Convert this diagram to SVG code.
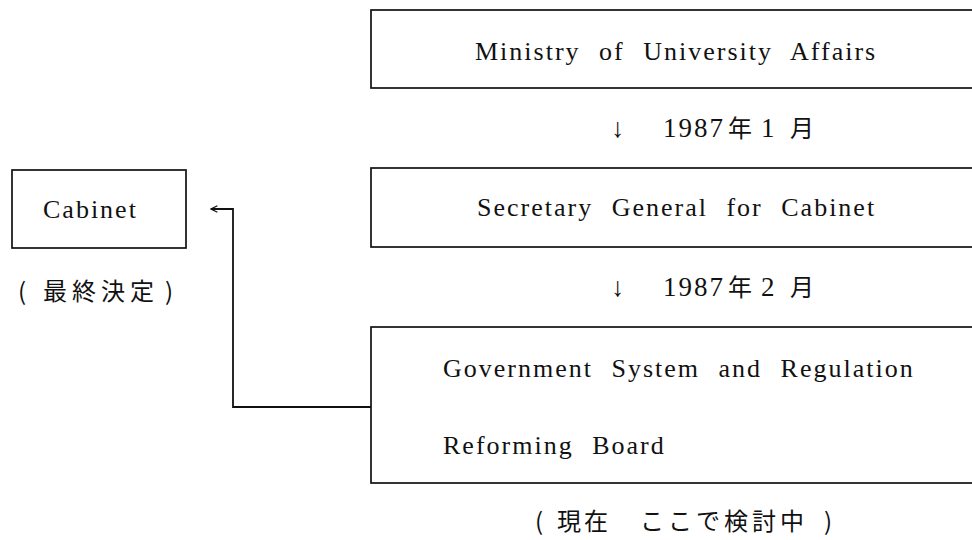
<svg xmlns="http://www.w3.org/2000/svg" width="972" height="540" viewBox="0 0 972 540">
<defs>
<style>
.box{fill:#fff;stroke:#111;stroke-width:1.7}
.t{font-family:"Liberation Serif","Times New Roman",serif;font-size:26px;fill:#111;letter-spacing:2px;word-spacing:10px}
.j{font-size:24px;fill:#111;font-family:"Noto Sans CJK JP",sans-serif}
.lbl{font-family:"Liberation Serif","Times New Roman",serif;font-size:27px;fill:#111}
.conn{fill:none;stroke:#111;stroke-width:1.8}
</style>
<marker id="ah" viewBox="0 0 10 10" refX="9" refY="5" markerWidth="8" markerHeight="8" markerUnits="userSpaceOnUse" orient="auto">
<path d="M1,1 L9,5 L1,9" fill="none" stroke="#111" stroke-width="1.6"/>
</marker>
</defs>
<rect width="972" height="540" fill="#fff"/>
<g id="connectors">
<path class="conn" d="M371,407 H233 V209 H211" marker-end="url(#ah)"/>
</g>
<g id="node-ministry">
<rect class="box" x="371" y="10" width="640" height="78"/>
<text class="t" x="475" y="60">Ministry of University Affairs</text>
</g>
<g id="label-1987-1">
<text class="lbl" x="611" y="137">↓</text>
<text class="lbl"><tspan x="663" y="137" letter-spacing="2">1987</tspan><tspan x="761" y="137">1</tspan></text>
<text class="j"><tspan x="728" y="137">年</tspan><tspan x="790" y="137">月</tspan></text>
</g>
<g id="node-secretary">
<rect class="box" x="371" y="168" width="640" height="79"/>
<text class="t" x="477" y="216">Secretary General for Cabinet</text>
</g>
<g id="label-1987-2">
<text class="lbl" x="611" y="296">↓</text>
<text class="lbl"><tspan x="663" y="296" letter-spacing="2">1987</tspan><tspan x="761" y="296">2</tspan></text>
<text class="j"><tspan x="728" y="296">年</tspan><tspan x="790" y="296">月</tspan></text>
</g>
<g id="node-board">
<rect class="box" x="371" y="327" width="640" height="156"/>
<text class="t" x="443" y="377">Government System and Regulation</text>
<text class="t" x="443" y="454">Reforming Board</text>
</g>
<text class="j" x="535" y="530">(<tspan x="557" letter-spacing="3">現在</tspan><tspan x="640" letter-spacing="4">ここで検討中</tspan><tspan x="824">)</tspan></text>
<g id="node-cabinet">
<rect class="box" x="12" y="170" width="174" height="78"/>
<text class="t" x="43" y="218" letter-spacing="3">Cabinet</text>
</g>
<text class="j" x="18" y="300">(<tspan x="43" letter-spacing="5">最終決定</tspan><tspan x="165">)</tspan></text>
</svg>
